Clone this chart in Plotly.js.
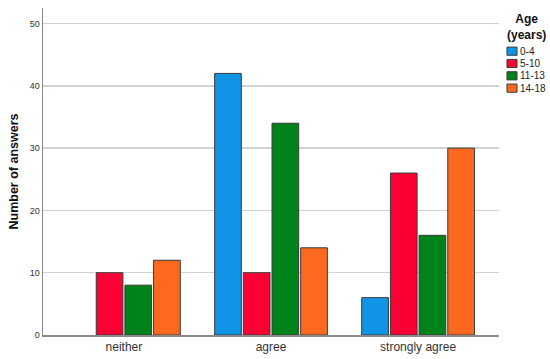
<!DOCTYPE html>
<html>
<head>
<meta charset="utf-8">
<script src="https://cdn.plot.ly/plotly-3.0.1.min.js"></script>
<style>
  html, body { margin: 0; padding: 0; background: #fff; }
  #chart { width: 550px; height: 359px; }
</style>
</head>
<body>
<div id="chart"></div>
<script>
// Answers by age group, grouped bars
const categories = ['neither', 'agree', 'strongly agree'];
const ageGroups = ['0-4', '5-10', '11-13', '14-18'];
const age0to4 = [null, 42, 6];
const age5to10 = [10, 10, 26];
const age11to13 = [8, 34, 16];
const age14to18 = [12, 14, 30];
const yTicks = [0, 10, 20, 30, 40, 50];

const seriesValues = [age0to4, age5to10, age11to13, age14to18];
const colors = ['#0f94e6', '#fa0033', '#00821a', '#ff681f'];
const FONT = 'Arial, "Liberation Sans", sans-serif';

const data = ageGroups.map((name, i) => ({
  x: categories,
  y: seriesValues[i],
  name: name,
  type: 'bar',
  marker: { color: colors[i], line: { color: '#3a3a3a', width: 1 } },
  hoverinfo: 'x+y+name',
}));

// Hand-built legend so entries sit close together like the original
const shapes = [];
const annotations = [{
  x: 1.061, y: 0.942, xref: 'paper', yref: 'paper',
  text: '<b>Age<br>(years)</b>',
  showarrow: false, xanchor: 'center', yanchor: 'middle', align: 'center',
  font: { family: FONT, size: 12, color: '#111' },
}];
ageGroups.forEach((name, i) => {
  const yc = 0.868 - i * 0.0377;
  shapes.push({
    type: 'rect', xref: 'paper', yref: 'paper',
    x0: 1.0175, x1: 1.0395, y0: yc - 0.0125, y1: yc + 0.0125,
    fillcolor: colors[i], line: { color: '#3a3a3a', width: 1 },
  });
  annotations.push({
    x: 1.042, y: yc, xref: 'paper', yref: 'paper',
    text: name, showarrow: false, xanchor: 'left', yanchor: 'middle',
    font: { family: FONT, size: 10, color: '#222' },
  });
});

const layout = {
  width: 550,
  height: 359,
  font: { family: FONT, size: 10, color: '#333' },
  plot_bgcolor: '#FFFFFF',
  paper_bgcolor: '#FFFFFF',
  showlegend: false,
  barmode: 'group',
  bargap: 0.22,
  bargroupgap: 0.07,
  margin: { l: 43, r: 51, t: 8, b: 24 },
  xaxis: {
    range: [-0.55, 2.55],
    showline: true, linecolor: '#8a8a8a', linewidth: 1.5,
    showgrid: false, ticks: '',
    tickfont: { family: FONT, size: 12, color: '#333' },
  },
  yaxis: {
    range: [0, 52.5],
    tickvals: yTicks,
    showline: true, linecolor: '#8a8a8a', linewidth: 1.5,
    showgrid: true, gridcolor: '#d2d2d2', gridwidth: 1.5,
    zeroline: false, ticks: '',
    tickfont: { family: FONT, size: 9, color: '#333' },
    title: { text: '<b>Number of answers</b>', standoff: 8,
             font: { family: FONT, size: 12.5, color: '#111' } },
  },
  shapes,
  annotations,
};

Plotly.newPlot('chart', data, layout, { displayModeBar: false, staticPlot: true });
</script>
</body>
</html>
